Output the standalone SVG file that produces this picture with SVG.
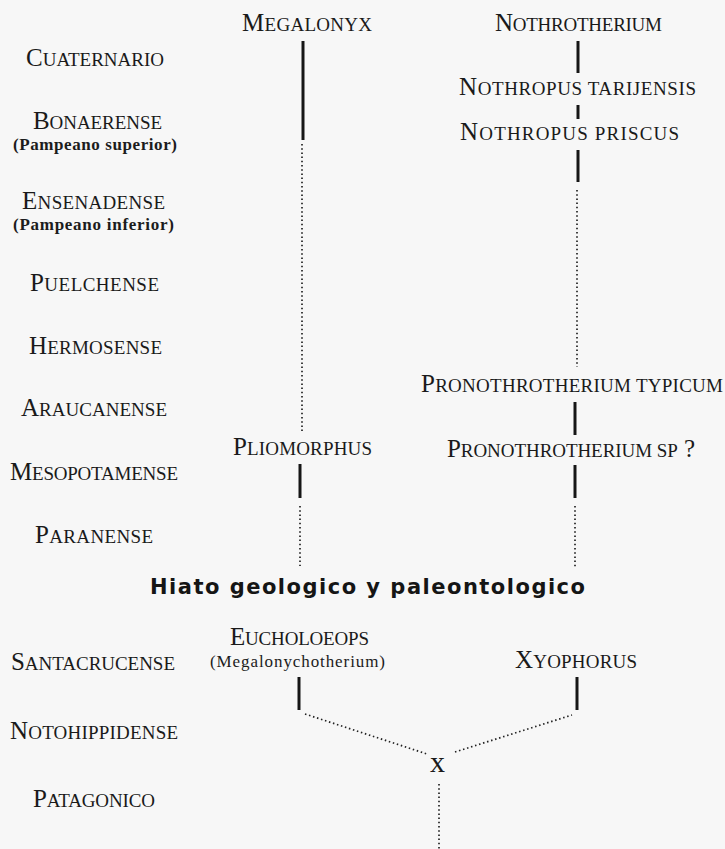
<svg xmlns="http://www.w3.org/2000/svg" width="725" height="849" viewBox="0 0 725 849">
<style>
  .sc { font-family: "Liberation Serif", "DejaVu Serif", serif; font-size: 25px; fill: #1a1a1a; }
  .s { font-size: 19px; }
  .sub { font-family: "Liberation Serif", "DejaVu Serif", serif; font-size: 17px; font-weight: bold; fill: #1c1c1c; }
  .title { font-family: "DejaVu Sans", "Liberation Sans", sans-serif; font-size: 21px; font-weight: bold; fill: #151515; }
  .solid { stroke: #161616; stroke-width: 3; stroke-linecap: butt; fill: none; }
  .dot { stroke: #222222; stroke-width: 1.7; stroke-dasharray: 1.5 2.7; fill: none; }
</style>
<rect x="0" y="0" width="725" height="849" fill="#f7f7f7"/>

<g id="connectors">
  <line class="solid" x1="303" y1="41" x2="303" y2="140"/>
  <line class="dot" x1="302" y1="144" x2="302" y2="432"/>
  <line class="solid" x1="300" y1="464" x2="300" y2="498"/>
  <line class="dot" x1="300" y1="506" x2="300" y2="566"/>
  <line class="solid" x1="578" y1="41" x2="578" y2="73"/>
  <line class="solid" x1="578" y1="105" x2="578" y2="119"/>
  <line class="solid" x1="578" y1="150" x2="578" y2="182"/>
  <line class="dot" x1="577" y1="190" x2="577" y2="367"/>
  <line class="solid" x1="575" y1="402" x2="575" y2="435"/>
  <line class="solid" x1="575" y1="465" x2="575" y2="498"/>
  <line class="dot" x1="575" y1="506" x2="575" y2="567"/>
  <line class="solid" x1="299" y1="677" x2="299" y2="710"/>
  <line class="solid" x1="577" y1="677" x2="577" y2="710"/>
  <line class="dot" x1="305" y1="714" x2="427" y2="754"/>
  <line class="dot" x1="455" y1="752" x2="572" y2="715"/>
  <line class="dot" x1="439" y1="784" x2="439" y2="849"/>
</g>

<g id="era-cuaternario"><text class="sc" x="26" y="66" textLength="138" lengthAdjust="spacing">C<tspan class="s">UATERNARIO</tspan></text></g>
<g id="era-bonaerense">
  <text class="sc" x="33" y="129" textLength="129" lengthAdjust="spacing">B<tspan class="s">ONAERENSE</tspan></text>
  <text class="sub" x="13" y="150" textLength="164" lengthAdjust="spacing">(Pampeano superior)</text>
</g>
<g id="era-ensenadense">
  <text class="sc" x="22" y="209" textLength="143" lengthAdjust="spacing">E<tspan class="s">NSENADENSE</tspan></text>
  <text class="sub" x="13" y="230" textLength="161" lengthAdjust="spacing">(Pampeano inferior)</text>
</g>
<g id="era-puelchense"><text class="sc" x="30" y="291" textLength="129" lengthAdjust="spacing">P<tspan class="s">UELCHENSE</tspan></text></g>
<g id="era-hermosense"><text class="sc" x="29" y="354" textLength="133" lengthAdjust="spacing">H<tspan class="s">ERMOSENSE</tspan></text></g>
<g id="era-araucanense"><text class="sc" x="21" y="416" textLength="146" lengthAdjust="spacing">A<tspan class="s">RAUCANENSE</tspan></text></g>
<g id="era-mesopotamense"><text class="sc" x="10" y="480" textLength="168" lengthAdjust="spacing">M<tspan class="s">ESOPOTAMENSE</tspan></text></g>
<g id="era-paranense"><text class="sc" x="35" y="543" textLength="118" lengthAdjust="spacing">P<tspan class="s">ARANENSE</tspan></text></g>
<g id="era-santacrucense"><text class="sc" x="11" y="670" textLength="164" lengthAdjust="spacing">S<tspan class="s">ANTACRUCENSE</tspan></text></g>
<g id="era-notohippidense"><text class="sc" x="10" y="739" textLength="168" lengthAdjust="spacing">N<tspan class="s">OTOHIPPIDENSE</tspan></text></g>
<g id="era-patagonico"><text class="sc" x="33" y="807" textLength="122" lengthAdjust="spacing">P<tspan class="s">ATAGONICO</tspan></text></g>

<g id="hiato"><text class="title" x="150" y="594" textLength="435" lengthAdjust="spacing">Hiato geologico y paleontologico</text></g>

<g id="megalonyx"><text class="sc" x="242" y="31" textLength="130" lengthAdjust="spacing">M<tspan class="s">EGALONYX</tspan></text></g>
<g id="nothrotherium"><text class="sc" x="495" y="31" textLength="167" lengthAdjust="spacing">N<tspan class="s">OTHROTHERIUM</tspan></text></g>
<g id="nothropus-tarijensis"><text class="sc" x="459" y="95" textLength="237" lengthAdjust="spacing">N<tspan class="s">OTHROPUS  TARIJENSIS</tspan></text></g>
<g id="nothropus-priscus"><text class="sc" x="460" y="140" textLength="219" lengthAdjust="spacing">N<tspan class="s">OTHROPUS  PRISCUS</tspan></text></g>
<g id="pronothrotherium-typicum"><text class="sc" x="421" y="392" textLength="302" lengthAdjust="spacing">P<tspan class="s">RONOTHROTHERIUM  TYPICUM</tspan></text></g>
<g id="pliomorphus"><text class="sc" x="233" y="455" textLength="139" lengthAdjust="spacing">P<tspan class="s">LIOMORPHUS</tspan></text></g>
<g id="pronothrotherium-sp"><text class="sc" x="447" y="457" textLength="248" lengthAdjust="spacing">P<tspan class="s">RONOTHROTHERIUM  SP</tspan> ?</text></g>
<g id="eucholoeops">
  <text class="sc" x="230" y="645" textLength="139" lengthAdjust="spacing">E<tspan class="s">UCHOLOEOPS</tspan></text>
  <text class="sub" x="210" y="667" textLength="175" lengthAdjust="spacing" style="font-weight:normal;font-size:17px">(Megalonychotherium)</text>
</g>
<g id="xyophorus"><text class="sc" x="515" y="668" textLength="122" lengthAdjust="spacing">X<tspan class="s">YOPHORUS</tspan></text></g>
<g id="ancestor-x"><text class="sc" x="430" y="772" style="font-size:30px">x</text></g>
</svg>
